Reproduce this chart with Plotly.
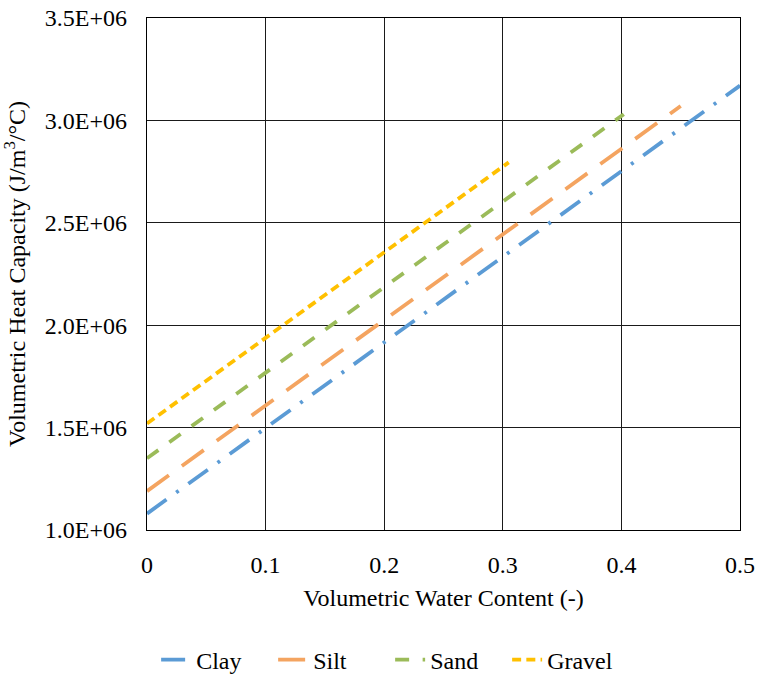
import plotly.graph_objects as go

# Volumetric heat capacity vs. volumetric water content for four soil types
series_names = ["Clay", "Silt", "Sand", "Gravel"]
water_content = {
    "Clay": [0.0, 0.5],
    "Silt": [0.0, 0.45],
    "Sand": [0.0, 0.402],
    "Gravel": [0.0, 0.305],
}
heat_capacity = {
    "Clay": [1.08e6, 3.17e6],
    "Silt": [1.19e6, 3.07e6],
    "Sand": [1.35e6, 3.03e6],
    "Gravel": [1.52e6, 2.795e6],
}

x_tick_vals = [0, 0.1, 0.2, 0.3, 0.4, 0.5]
x_tick_text = ["0", "0.1", "0.2", "0.3", "0.4", "0.5"]
y_tick_vals = [1.0e6, 1.5e6, 2.0e6, 2.5e6, 3.0e6, 3.5e6]
y_tick_text = ["1.0E+06", "1.5E+06", "2.0E+06", "2.5E+06", "3.0E+06", "3.5E+06"]

styles = {
    "Clay": dict(color="#5B9BD5", dash="24px,12px,3px,12px"),
    "Silt": dict(color="#F4A460", dash="27px,16px"),
    "Sand": dict(color="#9BBB59", dash="14px,13.5px"),
    "Gravel": dict(color="#FFC000", dash="9px,5.2px"),
}

FONT = "Liberation Serif"
FS = 24

fig = go.Figure()
for name in series_names:
    fig.add_trace(go.Scatter(
        x=water_content[name],
        y=heat_capacity[name],
        mode="lines",
        name=name,
        line=dict(color=styles[name]["color"], dash=styles[name]["dash"], width=3.8),
    ))

axis_common = dict(
    showline=True, linecolor="#000000", linewidth=1.3, mirror=True,
    showgrid=True, gridcolor="#1a1a1a", gridwidth=1.3,
    zeroline=False, ticks="", automargin=False,
    tickfont=dict(family=FONT, size=FS, color="#000000"),
)

fig.update_layout(
    width=758, height=674,
    margin=dict(l=147, r=18, t=18, b=144, autoexpand=False),
    paper_bgcolor="white", plot_bgcolor="white",
    font=dict(family=FONT, size=FS, color="#000000"),
    xaxis=dict(
        range=[0, 0.5], tickvals=x_tick_vals, ticktext=x_tick_text,
        ticklabelstandoff=13,
        title=dict(text="Volumetric Water Content (-)", font=dict(family=FONT, size=FS), standoff=12),
        **axis_common,
    ),
    yaxis=dict(
        range=[1.0e6, 3.5e6], tickvals=y_tick_vals, ticktext=y_tick_text,
        ticklabelstandoff=14,
        title=dict(text="Volumetric Heat Capacity (J/m<sup>3</sup>/°C)", font=dict(family=FONT, size=FS), standoff=12),
        **axis_common,
    ),
    legend=dict(
        orientation="h", xref="paper", yref="paper",
        x=0.41, xanchor="center", y=-0.254, yanchor="middle",
        entrywidth=72,
        font=dict(family=FONT, size=FS),
    ),
    showlegend=True,
)

fig.write_html("out.html")
